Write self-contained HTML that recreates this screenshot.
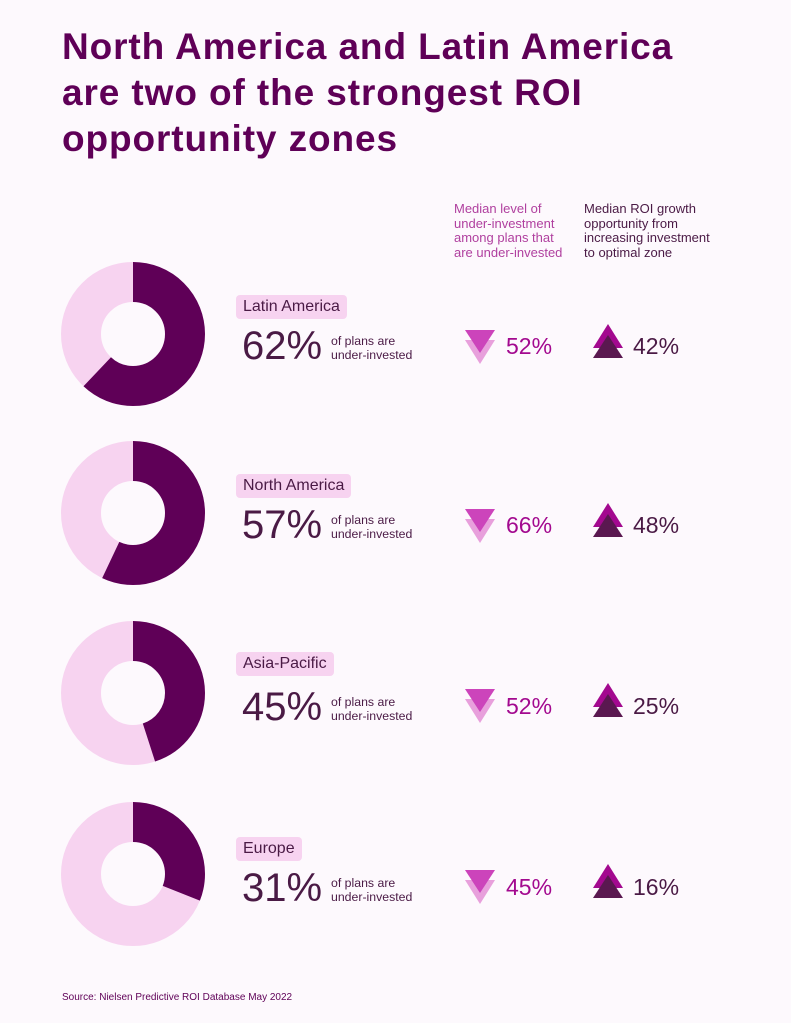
<!DOCTYPE html>
<html><head><style>
body{margin:0;background:#fdf9fd;font-family:"Liberation Sans",sans-serif;}
.wrap{position:relative;width:791px;height:1023px;overflow:hidden;}
h1{position:absolute;left:62px;top:24px;margin:0;font-size:37px;line-height:46px;color:#5f0057;font-weight:bold;letter-spacing:0.9px;}
.hd{position:absolute;top:202px;font-size:13px;line-height:14.5px;}
.pill{position:absolute;left:236px;background:#f7d3f0;color:#4a1a45;font-size:16px;padding:3px 7px;border-radius:4px;height:18px;line-height:18px;}
.big{position:absolute;left:242px;font-size:40px;color:#4a1a45;line-height:42px;}
.sm{position:absolute;left:331px;font-size:12.3px;line-height:14px;color:#4a1a45;}
.v1{position:absolute;left:506px;font-size:23px;color:#a3098f;line-height:24px;}
.v2{position:absolute;left:633px;font-size:23px;color:#4a1a45;line-height:24px;}
.src{position:absolute;left:62px;top:992px;font-size:10px;color:#5f0057;}
</style></head><body><div class="wrap">
<h1>North America and Latin America<br>are two of the strongest ROI<br>opportunity zones</h1>
<div class="hd" style="left:454px;color:#b0409f">Median level of<br>under-investment<br>among plans that<br>are under-invested</div>
<div class="hd" style="left:584px;color:#4a1a45">Median ROI growth<br>opportunity from<br>increasing investment<br>to optimal zone</div>
<svg width="791" height="1023" style="position:absolute;left:0;top:0">
<g fill="none" stroke-width="40">
<circle cx="133" cy="334" r="52" stroke="#f7d3f0"/>
<circle cx="133" cy="334" r="52" stroke="#5f0057" stroke-dasharray="202.6 400" transform="rotate(-90 133 334)"/>
<circle cx="133" cy="513" r="52" stroke="#f7d3f0"/>
<circle cx="133" cy="513" r="52" stroke="#5f0057" stroke-dasharray="186.2 400" transform="rotate(-90 133 513)"/>
<circle cx="133" cy="693" r="52" stroke="#f7d3f0"/>
<circle cx="133" cy="693" r="52" stroke="#5f0057" stroke-dasharray="147 400" transform="rotate(-90 133 693)"/>
<circle cx="133" cy="874" r="52" stroke="#f7d3f0"/>
<circle cx="133" cy="874" r="52" stroke="#5f0057" stroke-dasharray="101.3 400" transform="rotate(-90 133 874)"/>
</g>
<defs>
<g id="dn"><polygon points="465,10 495,10 480,34" fill="#e8a0dc"/><polygon points="465,0 495,0 480,23" fill="#cc44bb"/></g>
<g id="up"><polygon points="593,24 623,24 608,0" fill="#a3098f"/><polygon points="593,34 623,34 608,11" fill="#5a1850"/></g>
</defs>
<use href="#dn" y="330"/><use href="#up" y="324"/>
<use href="#dn" y="509"/><use href="#up" y="503"/>
<use href="#dn" y="689"/><use href="#up" y="683"/>
<use href="#dn" y="870"/><use href="#up" y="864"/>
</svg>

<div class="pill" style="top:295px">Latin America</div>
<div class="big" style="top:325px">62%</div>
<div class="sm" style="top:334px">of plans are<br>under-invested</div>
<div class="v1" style="top:334px">52%</div><div class="v2" style="top:334px">42%</div>

<div class="pill" style="top:474px">North America</div>
<div class="big" style="top:504px">57%</div>
<div class="sm" style="top:513px">of plans are<br>under-invested</div>
<div class="v1" style="top:513px">66%</div><div class="v2" style="top:513px">48%</div>

<div class="pill" style="top:652px">Asia-Pacific</div>
<div class="big" style="top:686px">45%</div>
<div class="sm" style="top:695px">of plans are<br>under-invested</div>
<div class="v1" style="top:694px">52%</div><div class="v2" style="top:694px">25%</div>

<div class="pill" style="top:837px">Europe</div>
<div class="big" style="top:867px">31%</div>
<div class="sm" style="top:876px">of plans are<br>under-invested</div>
<div class="v1" style="top:875px">45%</div><div class="v2" style="top:875px">16%</div>

<div class="src">Source: Nielsen Predictive ROI Database May 2022</div>
</div></body></html>
